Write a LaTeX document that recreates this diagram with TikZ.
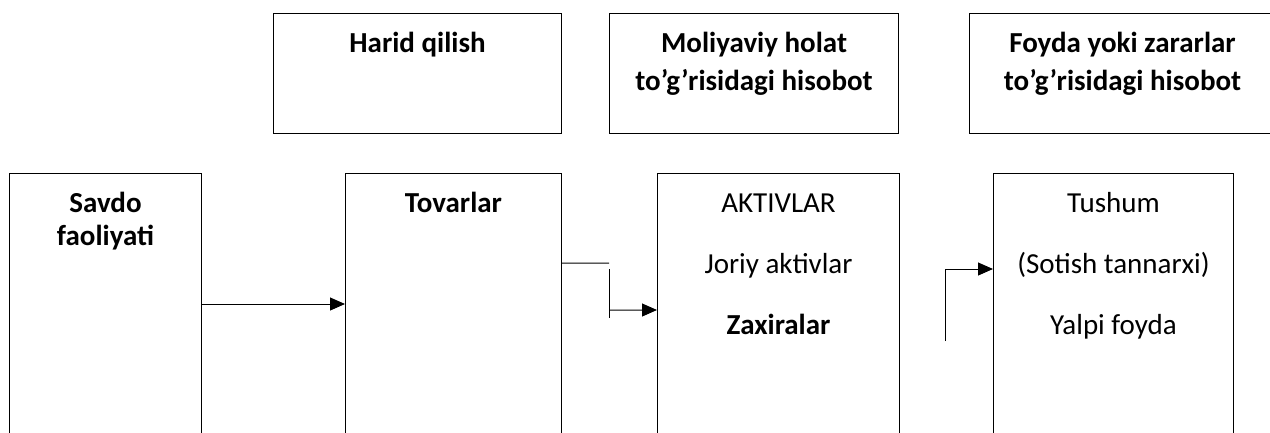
\documentclass[tikz,border=0pt]{standalone}
\usepackage{fontspec}
\setmainfont{Carlito}
\usetikzlibrary{arrows.meta}
\usetikzlibrary{positioning}

\begin{document}
\begin{tikzpicture}[x=1bp, y=-1bp, line width=1bp,
  arr/.style = {-{Triangle[length=15bp,width=13bp]}},
  main/.style = {draw, rectangle, anchor=north west, inner sep=0},
  hdrbox/.style = {main, minimum height=120bp},
  lowbox/.style = {main, minimum height=300bp},
  txt/.style = {anchor=base, align=center, inner sep=0, font=\fontsize{29bp}{33bp}\selectfont},
  head/.style = {txt, font=\fontsize{29bp}{38bp}\selectfont},
  list/.style = {txt, font=\fontsize{29bp}{61bp}\selectfont}]
    \useasboundingbox (0,0) rectangle (1270,432);
    \clip (0,0) rectangle (1270,432);

    % Nodes
    \node[hdrbox, minimum width=288bp] (1) at (273,13) {};
    \node[hdrbox, minimum width=289bp] (2) at (609,13) {};
    \node[hdrbox, minimum width=306bp] (3) at (969,13) {};
    \node[lowbox, minimum width=192bp] (4) at (9,173) {};
    \node[lowbox, minimum width=216bp] (5) at (345,173) {};
    \node[lowbox, minimum width=242bp] (6) at (657,173) {};
    \node[lowbox, minimum width=240bp] (7) at (993,173) {};

    % Texts (base = last line)
    \node[head] (1t) at ([yshift=-39bp]1.north) {\bfseries Harid qilish};
    \node[head] (2t) at ([yshift=-77bp]2.north) {\bfseries Moliyaviy holat\\\bfseries to’g’risidagi hisobot};
    \node[head] (3t) at ([yshift=-77bp]3.north) {\bfseries Foyda yoki zararlar\\\bfseries to’g’risidagi hisobot};
    \node[txt] (4t) at ([yshift=-72bp]4.north) {\bfseries Savdo\\\bfseries faoliyati};
    \node[txt] (5t) at ([yshift=-39bp]5.north) {\bfseries Tovarlar};
    \node[list] (6t) at ([yshift=-161bp]6.north) {AKTIVLAR\\Joriy aktivlar\\\bfseries Zaxiralar};
    \node[list] (7t) at ([yshift=-161bp]7.north) {Tushum\\(Sotish tannarxi)\\Yalpi foyda};

    \coordinate (k1) at (609,263);
    \coordinate (k2) at (609,269);
    \coordinate (k3) at (609,318);
    \coordinate (k4) at (609,310);
    \coordinate (k5) at (945,341);

    % Edges
    \draw[arr] ([yshift=-131bp]4.north east) -- ([yshift=-131bp]5.north west);
    \draw ([yshift=-90bp]5.north east) -- (k1);
    \draw (k2) -- (k3);
    \draw[arr] (k4) -- ([yshift=-137bp]6.north west);
    \draw[arr] (k5) |- ([yshift=-96bp]7.north west);
\end{tikzpicture}
\end{document}
